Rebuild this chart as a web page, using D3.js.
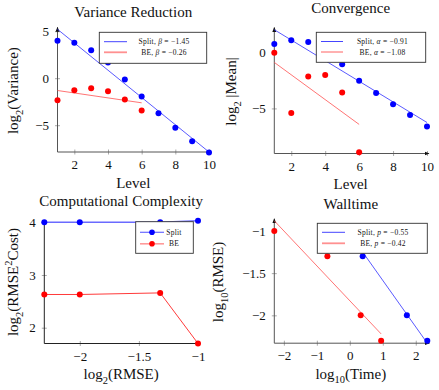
<!DOCTYPE html>
<html>
<head>
<meta charset="utf-8">
<script src="https://cdn.jsdelivr.net/npm/d3@7"></script>
<style>
  body { margin: 0; background: #fff; }
  svg { display: block; font-family: "Liberation Serif", "Times New Roman", serif; }
</style>
</head>
<body>
<div id="chart"></div>
<script>
// ---- data ----
var levels = [1, 2, 3, 4, 5, 6, 7, 8, 9, 10];
var levelsBE = [1, 2, 3, 4, 5, 6];

var varSplit = [3.97, 3.76, 2.98, 1.67, -0.14, -1.95, -3.72, -5.28, -6.7, -7.9];
var varBE = [-2.34, -1.28, -1.06, -1.38, -2.27, -3.44];
var varSplitFit = [[1, 5.2], [10, -7.85]];
var varBEFit = [[1, -1.31], [6, -2.62]];

var meanSplit = [0.71, 1.04, 0.89, -0.1, -1.09, -2.54, -3.64, -4.62, -5.59, -6.6];
var meanBE = [-0.06, -5.41, -2.16, -2.04, -3.58, -8.9];
var meanSplitFit = [[1, 1.98], [10, -6.25]];
var meanBEFit = [[1, -0.92], [6, -6.42]];

var log2Rmse = [-2.3, -2.0, -1.32, -1.0];
var costSplit = [4.0, 4.0, 4.0, 4.03];
var costBE = [2.63, 2.63, 2.66, 1.70];

var timeSplit = [-0.1, 0.39, 1.73, 2.35];
var timeBE = [-2.29, -0.68, 0.33, 0.95];
var rmseSplit = [-1.0, -1.30, -2.0, -2.30];
var rmseBE = [-1.0, -1.30, -2.0, -2.30];
var timeSplitFit = [[-0.1, -0.98], [2.35, -2.33]];
var timeBEFit = [[-2.29, -0.88], [0.95, -2.22]];

var BLUE = "#0000ff", RED = "#ff0000";
var TICK_SIZE = 13, LABEL_SIZE = 15, TITLE_SIZE = 15;

var svg = d3.select("#chart").append("svg")
    .attr("width", 439)
    .attr("height", 390);

svg.append("defs").append("marker")
    .attr("id", "arrow")
    .attr("viewBox", "0 0 10 10")
    .attr("refX", 9).attr("refY", 5)
    .attr("markerWidth", 5).attr("markerHeight", 5)
    .attr("markerUnits", "userSpaceOnUse")
    .attr("orient", "auto")
    .append("path")
    .attr("d", "M0,1 L10,5 L0,9 z")
    .attr("fill", "#111");

function zip (xs, ys) {
  return ys.map(function (y, i) { return [xs[i], y]; });
}

// subscript / superscript helper: parts = [[text, kind], ...]
function richText (sel, parts, size) {
  parts.forEach(function (p) {
    var t = sel.append("tspan").text(p[0]);
    if (p[1] == "sub") {
      t.attr("font-size", size * 0.7).attr("dy", size * 0.3);
    } else if (p[1] == "sup") {
      t.attr("font-size", size * 0.7).attr("dy", -size * 0.4);
    } else if (p[1] == "back") {
      t.attr("dy", -size * 0.3);
    } else if (p[1] == "down") {
      t.attr("dy", size * 0.4);
    }
  });
}

function minus (f) {
  return function (d) { return d3.format(f || "")(d).replace("-", "\u2212"); };
}

function panel (cfg) {
  var x = d3.scaleLinear().domain(cfg.xDomain).range([cfg.left, cfg.right]);
  var y = d3.scaleLinear().domain(cfg.yDomain).range([cfg.bottom, cfg.top]);
  var g = svg.append("g");

  var xaxis = g.append("g")
      .attr("transform", "translate(0," + cfg.bottom + ")")
      .call(d3.axisBottom(x).tickValues(cfg.xTicks).tickSize(0).tickPadding(8)
        .tickFormat(minus(cfg.xFmt)));
  var yaxis = g.append("g")
      .attr("transform", "translate(" + cfg.left + ",0)")
      .call(d3.axisLeft(y).tickValues(cfg.yTicks).tickSize(0).tickPadding(8.5)
        .tickFormat(minus(cfg.yFmt)));

  [xaxis, yaxis].forEach(function (a) {
    a.select(".domain").remove();
    a.selectAll(".tick text").attr("font-size", TICK_SIZE).attr("fill", "#111")
      .attr("font-family", "Liberation Serif, serif");
  });
  xaxis.selectAll(".tick line").attr("y1", -2.5).attr("y2", 2.5).attr("stroke", "#aaa");
  yaxis.selectAll(".tick line").attr("x1", -2.5).attr("x2", 2.5).attr("stroke", "#aaa");

  // axis lines (pgfplots "axis lines = left")
  g.append("line")
      .attr("x1", cfg.left).attr("x2", cfg.right + (cfg.arrows ? 2 : 0))
      .attr("y1", cfg.bottom).attr("y2", cfg.bottom)
      .attr("stroke", cfg.axisColor).attr("stroke-width", 1)
      .attr("marker-end", cfg.arrows ? "url(#arrow)" : null);
  g.append("line")
      .attr("x1", cfg.left).attr("x2", cfg.left)
      .attr("y1", cfg.bottom).attr("y2", cfg.top - (cfg.arrows ? 2 : 0))
      .attr("stroke", cfg.axisColor).attr("stroke-width", 1)
      .attr("marker-end", cfg.arrows ? "url(#arrow)" : null);

  var line = d3.line()
      .x(function (d) { return x(d[0]); })
      .y(function (d) { return y(d[1]); });

  cfg.series.forEach(function (s) {
    if (s.fit) {
      g.append("path")
          .attr("d", line(s.fit))
          .attr("fill", "none")
          .attr("stroke", s.fitColor)
          .attr("stroke-width", 0.8);
    }
    if (s.connect) {
      g.append("path")
          .attr("d", line(s.points))
          .attr("fill", "none")
          .attr("stroke", s.lineColor)
          .attr("stroke-width", s.lineWidth);
    }
    g.selectAll(null).data(s.points).enter().append("circle")
        .attr("cx", function (d) { return x(d[0]); })
        .attr("cy", function (d) { return y(d[1]); })
        .attr("r", 3)
        .attr("fill", s.color);
  });

  // title and labels
  g.append("text")
      .attr("x", (cfg.left + cfg.right) / 2)
      .attr("y", cfg.titleY)
      .attr("text-anchor", "middle")
      .attr("font-size", TITLE_SIZE)
      .attr("fill", "#111")
      .text(cfg.title);

  var xl = g.append("text")
      .attr("x", (cfg.left + cfg.right) / 2)
      .attr("y", cfg.bottom + 35.5)
      .attr("text-anchor", "middle")
      .attr("font-size", LABEL_SIZE)
      .attr("fill", "#111");
  richText(xl, cfg.xLabel, LABEL_SIZE);

  var yl = g.append("text")
      .attr("transform", "translate(" + cfg.yLabelX + "," + (cfg.top + cfg.bottom) / 2 + ") rotate(-90)")
      .attr("text-anchor", "middle")
      .attr("font-size", LABEL_SIZE)
      .attr("fill", "#111");
  richText(yl, cfg.yLabel, LABEL_SIZE);

  // legend
  var L = cfg.legend;
  var lg = g.append("g");
  lg.append("rect")
      .attr("x", L.x).attr("y", L.y)
      .attr("width", L.w).attr("height", L.h)
      .attr("fill", "#fff")
      .attr("stroke", "#333")
      .attr("stroke-width", 0.9);
  L.items.forEach(function (it, i) {
    var cy = L.rowY[i];
    lg.append("line")
        .attr("x1", L.lineX[0]).attr("x2", L.lineX[1])
        .attr("y1", cy).attr("y2", cy)
        .attr("stroke", it.stroke)
        .attr("stroke-width", it.width);
    if (it.marker) {
      lg.append("circle")
          .attr("cx", (L.lineX[0] + L.lineX[1]) / 2)
          .attr("cy", cy)
          .attr("r", 2.8)
          .attr("fill", it.marker);
    }
    var t = lg.append("text")
        .attr("x", L.textX)
        .attr("y", cy + 2.5)
        .attr("text-anchor", "middle")
        .attr("font-size", 7.5)
        .attr("letter-spacing", 0.25)
        .attr("fill", "#111");
    t.append("tspan").text(it.name + (it.sym ? ", " : ""));
    if (it.sym) {
      t.append("tspan").attr("font-style", "italic").text(it.sym);
      t.append("tspan").text(" = " + it.val);
    }
  });
}

panel({
  left: 57.5, right: 209, top: 29.3, bottom: 152,
  xDomain: [1, 10], yDomain: [-7.85, 5.2],
  xTicks: [2, 4, 6, 8, 10], yTicks: [-5, 0, 5],
  arrows: true, axisColor: "#555",
  title: "Variance Reduction", titleY: 16.5,
  xLabel: [["Level"]],
  yLabel: [["log"], ["2", "sub"], ["(Variance)", "back"]],
  yLabelX: 18,
  series: [
    { points: zip(levels, varSplit), color: BLUE, fit: varSplitFit, fitColor: "#3030ff" },
    { points: zip(levelsBE, varBE), color: RED, fit: varBEFit, fitColor: "#ff5050" }
  ],
  legend: {
    x: 99.3, y: 32.3, w: 107.4, h: 31, lineX: [104, 127], textX: 164, rowY: [41.7, 52.3],
    items: [
      { name: "Split", sym: "\u03b2", val: "\u22121.45", stroke: "#3030ff", width: 0.9 },
      { name: "BE", sym: "\u03b2", val: "\u22120.26", stroke: "#ff9090", width: 1.8 }
    ]
  }
});

panel({
  left: 274.3, right: 427, top: 29.5, bottom: 153.5,
  xDomain: [1, 10], yDomain: [-9, 2],
  xTicks: [2, 4, 6, 8, 10], yTicks: [-5, 0],
  arrows: true, axisColor: "#555",
  title: "Convergence", titleY: 13,
  xLabel: [["Level"]],
  yLabel: [["log"], ["2", "sub"], [" |Mean|", "back"]],
  yLabelX: 236,
  series: [
    { points: zip(levels, meanSplit), color: BLUE, fit: meanSplitFit, fitColor: "#3030ff" },
    { points: zip(levelsBE, meanBE), color: RED, fit: meanBEFit, fitColor: "#ff5050" }
  ],
  legend: {
    x: 316.3, y: 32.3, w: 109.4, h: 30, lineX: [321, 343], textX: 382.5, rowY: [41.5, 52],
    items: [
      { name: "Split", sym: "\u03b1", val: "\u22120.91", stroke: "#3030ff", width: 0.9 },
      { name: "BE", sym: "\u03b1", val: "\u22121.08", stroke: "#ff5050", width: 0.9 }
    ]
  }
});

panel({
  left: 44.3, right: 198, top: 220.7, bottom: 343.5,
  xDomain: [-2.3, -1], yDomain: [1.70, 4.03],
  xTicks: [-2, -1.5, -1], yTicks: [2, 3, 4],
  arrows: false, axisColor: "#222",
  title: "Computational Complexity", titleY: 205.5,
  xLabel: [["log"], ["2", "sub"], ["(RMSE)", "back"]],
  yLabel: [["log"], ["2", "sub"], ["(RMSE", "back"], ["2", "sup"], ["Cost)", "down"]],
  yLabelX: 18,
  series: [
    { points: zip(log2Rmse, costSplit), color: BLUE, connect: true, lineColor: "#6a6aff", lineWidth: 1.6 },
    { points: zip(log2Rmse, costBE), color: RED, connect: true, lineColor: "#ff3a3a", lineWidth: 1 }
  ],
  legend: {
    x: 135.7, y: 221.7, w: 57.6, h: 31.6, lineX: [140, 164], textX: 174, rowY: [232.3, 243.8],
    items: [
      { name: "Split", stroke: "#6a6aff", width: 1.2, marker: BLUE },
      { name: "BE", stroke: "#ff9a9a", width: 1.6, marker: RED }
    ]
  }
});

panel({
  left: 274.3, right: 427.3, top: 220.8, bottom: 343.2,
  xDomain: [-2.29, 2.35], yDomain: [-2.33, -0.88],
  xTicks: [-2, -1, 0, 1, 2], yTicks: [-2, -1.5, -1],
  arrows: true, axisColor: "#555",
  title: "Walltime", titleY: 208.5,
  xLabel: [["log"], ["10", "sub"], ["(Time)", "back"]],
  yLabel: [["log"], ["10", "sub"], ["(RMSE)", "back"]],
  yLabelX: 223,
  series: [
    { points: zip(timeSplit, rmseSplit), color: BLUE, fit: timeSplitFit, fitColor: "#3030ff" },
    { points: zip(timeBE, rmseBE), color: RED, fit: timeBEFit, fitColor: "#ff5050" }
  ],
  legend: {
    x: 317.3, y: 223.3, w: 110, h: 30, lineX: [322, 345], textX: 383, rowY: [232.3, 243.3],
    items: [
      { name: "Split", sym: "p", val: "\u22120.55", stroke: "#3030ff", width: 0.9 },
      { name: "BE", sym: "p", val: "\u22120.42", stroke: "#ff9090", width: 1.8 }
    ]
  }
});
</script>
</body>
</html>
